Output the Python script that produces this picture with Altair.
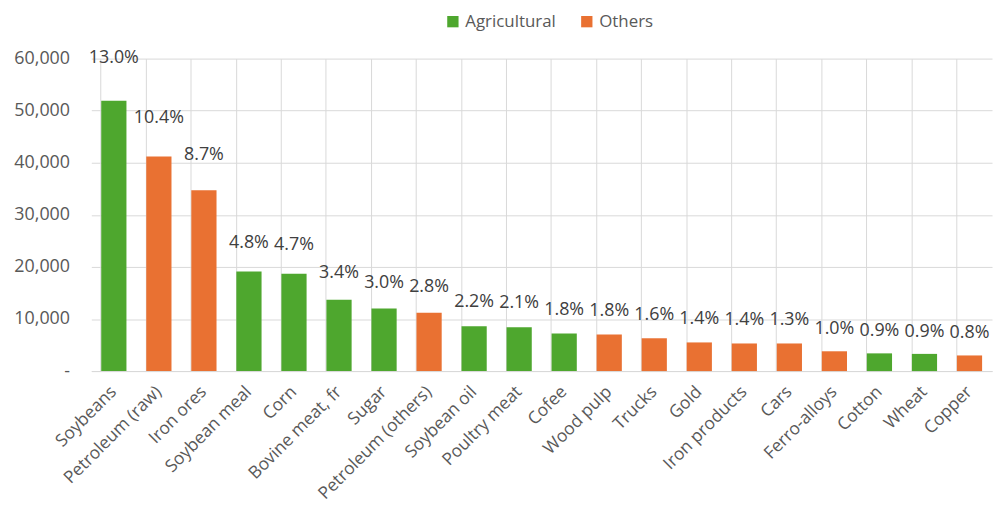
import altair as alt
import pandas as pd

products = ["Soybeans", "Petroleum (raw)", "Iron ores", "Soybean meal", "Corn",
            "Bovine meat, fr", "Sugar", "Petroleum (others)", "Soybean oil", "Poultry meat",
            "Cofee", "Wood pulp", "Trucks", "Gold", "Iron products",
            "Cars", "Ferro-alloys", "Cotton", "Wheat", "Copper"]
values = [51900, 41200, 34700, 19100, 18700,
          13700, 12000, 11200, 8600, 8400,
          7200, 7000, 6300, 5500, 5300,
          5300, 3800, 3400, 3300, 3000]
groups = ["Agricultural", "Others", "Others", "Agricultural", "Agricultural",
          "Agricultural", "Agricultural", "Others", "Agricultural", "Agricultural",
          "Agricultural", "Others", "Others", "Others", "Others",
          "Others", "Others", "Agricultural", "Agricultural", "Others"]
shares = ["13.0%", "10.4%", "8.7%", "4.8%", "4.7%",
          "3.4%", "3.0%", "2.8%", "2.2%", "2.1%",
          "1.8%", "1.8%", "1.6%", "1.4%", "1.4%",
          "1.3%", "1.0%", "0.9%", "0.9%", "0.8%"]

df = pd.DataFrame({"product": products, "value": values, "group": groups, "share": shares})

FONT = "Open Sans"
GREY = "#595959"

x = alt.X("product:N", sort=products, title=None,
          scale=alt.Scale(paddingInner=0.44, paddingOuter=0.22),
          axis=alt.Axis(labelAngle=-45, labelAlign="right", labelBaseline="middle",
                        labelFontSize=17.5, labelColor=GREY, labelFont=FONT,
                        ticks=False, domainColor="#d9d9d9", grid=True, gridColor="#d9d9d9",
                        bandPosition=0, labelPadding=18, labelOverlap=False, labelBound=False))

bars = alt.Chart(df).mark_bar().encode(
    x=x,
    y=alt.Y("value:Q", title=None,
            scale=alt.Scale(domain=[0, 60000]),
            axis=alt.Axis(values=[0, 10000, 20000, 30000, 40000, 50000, 60000],
                          labelExpr="datum.value == 0 ? '-' : format(datum.value, ',')",
                          labelFontSize=18, labelColor=GREY, labelFont=FONT,
                          ticks=False, domain=False, gridColor="#d9d9d9", labelPadding=22)),
    color=alt.Color("group:N",
                    scale=alt.Scale(domain=["Agricultural", "Others"], range=["#4EA72E", "#E97132"]),
                    legend=alt.Legend(title=None, orient="none", direction="horizontal",
                                      legendX=356, legendY=-46, symbolType="square",
                                      symbolSize=130, symbolStrokeWidth=0, labelFontSize=17,
                                      labelColor=GREY, labelFont=FONT, columnPadding=22,
                                      symbolOpacity=1)),
)

labels = alt.Chart(df).transform_calculate(
    label_y="datum.value * 1.08 + 4000"
).mark_text(fontSize=18, font=FONT, color="#404040", baseline="middle").encode(
    x=alt.X("product:N", sort=products),
    y=alt.Y("label_y:Q"),
    text="share:N",
)

chart = alt.layer(bars, labels).properties(
    width=908, height=315,
    padding={"left": 84, "top": 49, "right": 2, "bottom": 134},
    autosize=alt.AutoSizeParams(type="none"),
).configure_view(stroke=None).configure_axis(gridWidth=1)

chart.save("out.html", embed_options={"renderer": "svg", "actions": False})
